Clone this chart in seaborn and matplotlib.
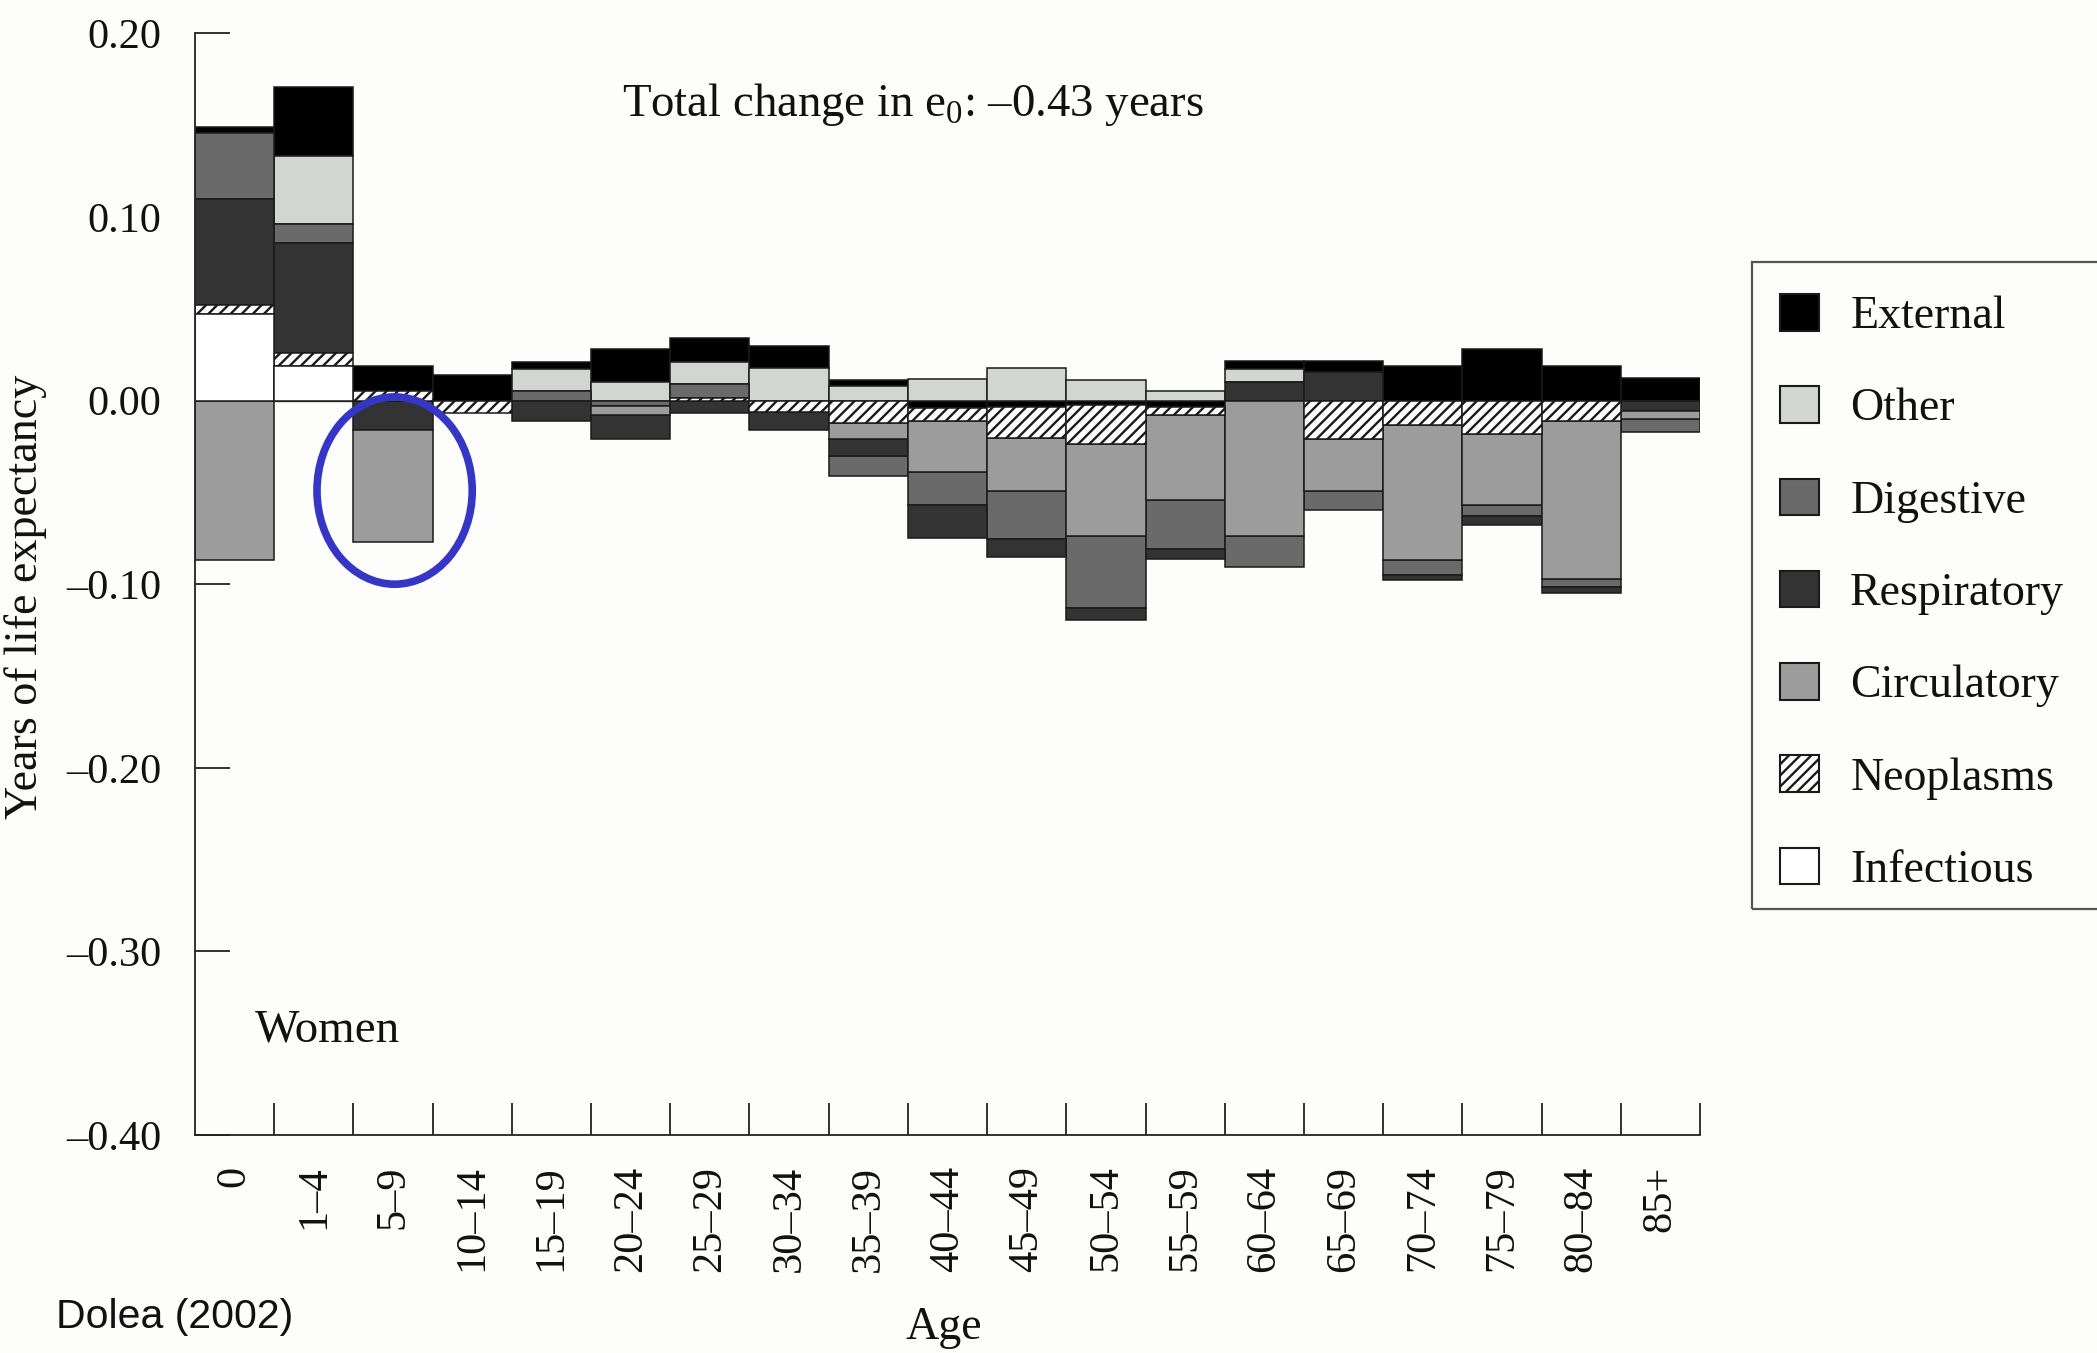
import numpy as np
import pandas as pd
import matplotlib
matplotlib.use("Agg")
import matplotlib.pyplot as plt
from matplotlib.patches import Patch, Rectangle, Ellipse
import seaborn as sns

# ---- data -------------------------------------------------------------
age_groups = ["0", "1–4", "5–9", "10–14", "15–19", "20–24", "25–29", "30–34",
              "35–39", "40–44", "45–49", "50–54", "55–59", "60–64", "65–69",
              "70–74", "75–79", "80–84", "85+"]

causes = ["External", "Other", "Digestive", "Respiratory",
          "Circulatory", "Neoplasms", "Infectious"]

# Segments of each bar, listed outward from the zero line
# (positive values stack upward, negative values stack downward).
seg_causes = [
    ["Infectious", "Neoplasms", "Respiratory", "Digestive", "External", "Circulatory"],
    ["Infectious", "Neoplasms", "Respiratory", "Digestive", "Other", "External"],
    ["Neoplasms", "External", "Respiratory", "Circulatory"],
    ["External", "Neoplasms"],
    ["Digestive", "Other", "External", "Respiratory"],
    ["Other", "External", "Digestive", "Circulatory", "Respiratory"],
    ["Neoplasms", "Digestive", "Other", "External", "Respiratory"],
    ["Other", "External", "Neoplasms", "Respiratory"],
    ["Other", "External", "Neoplasms", "Circulatory", "Respiratory", "Digestive"],
    ["Other", "External", "Neoplasms", "Circulatory", "Digestive", "Respiratory"],
    ["Other", "External", "Neoplasms", "Circulatory", "Digestive", "Respiratory"],
    ["Other", "External", "Neoplasms", "Circulatory", "Digestive", "Respiratory"],
    ["Other", "External", "Neoplasms", "Circulatory", "Digestive", "Respiratory"],
    ["Respiratory", "Other", "External", "Circulatory", "Digestive"],
    ["Respiratory", "External", "Neoplasms", "Circulatory", "Digestive"],
    ["External", "Neoplasms", "Circulatory", "Digestive", "Respiratory"],
    ["External", "Neoplasms", "Circulatory", "Digestive", "Respiratory"],
    ["External", "Neoplasms", "Circulatory", "Digestive", "Respiratory"],
    ["External", "Respiratory", "Circulatory", "Digestive"],
]
seg_values = [
    [0.047, 0.005, 0.058, 0.036, 0.003, -0.087],
    [0.019, 0.007, 0.060, 0.010, 0.037, 0.038],
    [0.005, 0.014, -0.016, -0.061],
    [0.014, -0.007],
    [0.005, 0.012, 0.004, -0.011],
    [0.010, 0.018, -0.003, -0.005, -0.013],
    [0.0015, 0.0075, 0.012, 0.013, -0.007],
    [0.018, 0.012, -0.006, -0.010],
    [0.008, 0.003, -0.012, -0.009, -0.009, -0.011],
    [0.012, -0.004, -0.007, -0.028, -0.018, -0.018],
    [0.018, -0.0035, -0.017, -0.0285, -0.0265, -0.0095],
    [0.011, -0.0025, -0.021, -0.0505, -0.039, -0.0065],
    [0.0055, -0.0035, -0.0045, -0.046, -0.027, -0.0055],
    [0.010, 0.007, 0.0045, -0.074, -0.0165],
    [0.0156, 0.006, -0.021, -0.0285, -0.010],
    [0.019, -0.0134, -0.0735, -0.008, -0.003],
    [0.028, -0.018, -0.039, -0.006, -0.0045],
    [0.019, -0.011, -0.086, -0.0045, -0.0035],
    [0.0125, -0.0055, -0.0045, -0.007],
]

y_ticks = [-0.40, -0.30, -0.20, -0.10, 0.00, 0.10, 0.20]
total_change = -0.43

# ---- styles -----------------------------------------------------------
cause_fill = {
    "External": "#000000",
    "Other": "#d3d5d3",
    "Digestive": "#6a6a6a",
    "Respiratory": "#333333",
    "Circulatory": "#9b9c9b",
    "Neoplasms": "#ffffff",
    "Infectious": "#ffffff",
}
cause_hatch = {"Neoplasms": "///"}

sns.set_theme(style="ticks")
plt.rcParams["font.family"] = ["Liberation Serif", "DejaVu Serif"]
plt.rcParams["mathtext.fontset"] = "custom"
plt.rcParams["mathtext.rm"] = "Liberation Serif"
plt.rcParams["hatch.linewidth"] = 1.7
plt.rcParams["hatch.color"] = "#111111"

bg = "#fdfdfc"
fig = plt.figure(figsize=(20.97, 13.53), dpi=100, facecolor=bg)
ax = fig.add_axes([195 / 2097, 1 - 1135 / 1353, (1700 - 195) / 2097, (1135 - 33.4) / 1353])
ax.set_facecolor(bg)

# ---- long table with stacked bottoms ----------------------------------
rows = [(i, c, v)
        for i, (cs, vs) in enumerate(zip(seg_causes, seg_values))
        for c, v in zip(cs, vs)]
df = pd.DataFrame(rows, columns=["pos", "cause", "value"])
df["side"] = np.sign(df["value"])
df["top"] = df.groupby(["pos", "side"])["value"].cumsum()
df["bottom"] = df["top"] - df["value"]

for cause in causes:
    sub = df[df["cause"] == cause]
    ax.bar(sub["pos"], sub["value"], bottom=sub["bottom"], width=1.0,
           color=cause_fill[cause], edgecolor="#1a1a1a", linewidth=1.1,
           hatch=cause_hatch.get(cause), zorder=2)

ax.axhline(0, color="#444444", lw=1.0, zorder=1)

# ---- axes ---------------------------------------------------------------
n = len(age_groups)
ax.set_xlim(-0.5, n - 0.5)
ax.set_ylim(-0.40, 0.20)
ax.set_xticks(np.arange(n))
ax.set_xticklabels(age_groups)
ax.set_xticks(np.arange(0.5, n, 1.0), minor=True)
ax.tick_params(axis="x", which="major", length=0, pad=22, labelsize=30.5,
               labelrotation=90, colors="#111111")
ax.tick_params(axis="x", which="minor", direction="in", length=23, width=1.3,
               color="#222222")
ax.set_yticks(y_ticks)
ax.set_yticklabels([("–" if v < 0 else "") + f"{abs(v):.2f}" for v in y_ticks])
ax.tick_params(axis="y", direction="in", length=25, width=1.3, pad=24,
               labelsize=30.5, color="#222222", labelcolor="#111111")
ax.yaxis.set_tick_params(which="minor", length=0)
sns.despine(ax=ax)
for side in ("left", "bottom"):
    ax.spines[side].set_linewidth(1.3)
    ax.spines[side].set_color("#222222")

# ---- annotations --------------------------------------------------------
fig.text(913 / 2097, 1 - 104 / 1353,
         r"Total change in e$_\mathregular{0}$: " + f"–{abs(total_change):.2f} years",
         ha="center", va="center", fontsize=33.7, color="#111111")
ax.text(0.25, -0.343, "Women", ha="left", va="center", fontsize=33.8, color="#111111")
ax.add_patch(Ellipse((2.02, -0.049), width=1.96, height=0.102, fill=False,
                     edgecolor="#3535c6", lw=5.5, zorder=6, clip_on=False))

fig.text(26 / 2097, 1 - 597 / 1353, "Years of life expectancy", rotation=90,
         ha="center", va="center", fontsize=33.2, color="#111111")
fig.text(944 / 2097, 1 - 1328 / 1353, "Age", ha="center", va="center",
         fontsize=33, color="#111111")
fig.text(56 / 2097, 1 - 1317 / 1353, "Dolea (2002)", ha="left", va="center",
         fontsize=29.5, family=["Liberation Sans", "DejaVu Sans"], color="#111111")

# ---- legend -------------------------------------------------------------
handles = [Patch(facecolor=cause_fill[c], edgecolor="#1a1a1a", linewidth=1.5,
                 hatch=cause_hatch.get(c), label=c) for c in causes]
fig.legend(handles=handles, loc="upper left",
           bbox_to_anchor=(1780 / 2097, 1 - 294 / 1353),
           frameon=False, fontsize=33, handlelength=0.85, handleheight=0.85,
           handletextpad=0.68, labelspacing=1.05, borderpad=0, borderaxespad=0,
           labelcolor="#111111")
fig.patches.append(Rectangle((1752 / 2097, 1 - 909 / 1353), (2150 - 1752) / 2097,
                             (909 - 262) / 1353, transform=fig.transFigure,
                             fill=False, edgecolor="#555555", lw=1.6))

fig.savefig("out.png", dpi=100, facecolor=bg)
